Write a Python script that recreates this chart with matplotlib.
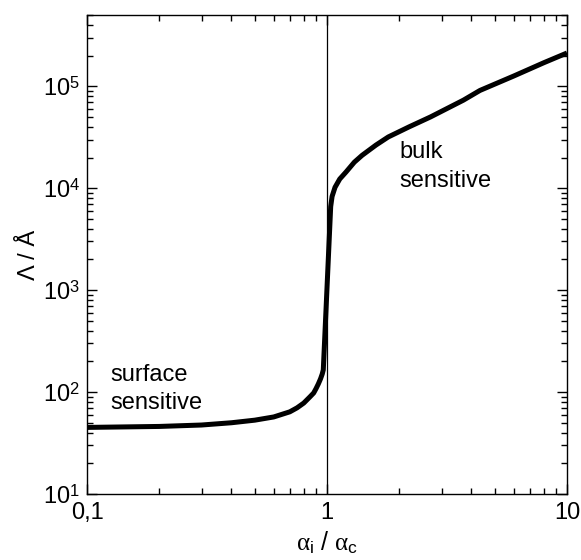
import matplotlib
matplotlib.use("Agg")
import matplotlib.pyplot as plt
from matplotlib.ticker import FixedLocator, FixedFormatter, LogLocator, NullFormatter

plt.rcParams['font.family'] = ['Liberation Sans', 'DejaVu Sans']
plt.rcParams['mathtext.fontset'] = 'custom'
plt.rcParams['mathtext.rm'] = 'Liberation Sans'
plt.rcParams['mathtext.it'] = 'Liberation Serif'
plt.rcParams['mathtext.sf'] = 'Liberation Sans'

# Data
ratio = [0.1, 0.2, 0.3, 0.4, 0.5, 0.6, 0.7, 0.75, 0.8, 0.85, 0.88, 0.9, 0.92,
         0.94, 0.955, 0.965,
         1.036, 1.05, 1.08, 1.13, 1.2, 1.3, 1.4, 1.6, 1.8, 2.2, 2.7, 3.7, 4.34,
         6.0, 8.0, 10.0]
depth = [45, 46, 47.5, 50, 53, 57, 64, 70, 78, 90, 98, 108, 120,
         135, 150, 165,
         6600, 8300, 10200, 12300, 14400, 18000, 21000, 26500, 31800, 40000,
         50000, 73000, 91000, 126000, 170000, 212000]

xtick_vals = [0.1, 1, 10]
xtick_labels = ['0,1', '1', '10']
ytick_vals = [1e1, 1e2, 1e3, 1e4, 1e5]
ytick_labels = [r'$10^{1}$', r'$10^{2}$', r'$10^{3}$', r'$10^{4}$', r'$10^{5}$']

fig = plt.figure(figsize=(5.81, 5.6), dpi=100)
ax = fig.add_axes([87/581, 66/560, 480/581, 479/560])

ax.plot(ratio, depth, color='black', lw=3.6, solid_capstyle='butt', solid_joinstyle='round')
ax.axvline(1.0, color='black', lw=0.9)

ax.set_xscale('log')
ax.set_yscale('log')
ax.set_xlim(0.1, 10)
ax.set_ylim(10, 5e5)

ax.xaxis.set_major_locator(FixedLocator(xtick_vals))
ax.xaxis.set_major_formatter(FixedFormatter(xtick_labels))
ax.yaxis.set_major_locator(FixedLocator(ytick_vals))
ax.yaxis.set_major_formatter(FixedFormatter(ytick_labels))
ax.xaxis.set_minor_locator(LogLocator(base=10, subs=range(2, 10)))
ax.yaxis.set_minor_locator(LogLocator(base=10, subs=range(2, 10)))
ax.xaxis.set_minor_formatter(NullFormatter())
ax.yaxis.set_minor_formatter(NullFormatter())

ax.tick_params(which='both', direction='in', top=True, right=True, labelsize=17, width=1.0)
ax.tick_params(which='major', length=7)
ax.tick_params(axis='x', which='major', pad=6)
ax.tick_params(axis='y', which='major', pad=5)
ax.tick_params(which='minor', length=4)
for s in ax.spines.values():
    s.set_linewidth(1.0)

ax.text(0.125, 190, 'surface\nsensitive', ha='left', va='top', fontsize=17, linespacing=1.4)
ax.text(2.0, 29000, 'bulk\nsensitive', ha='left', va='top', fontsize=17, linespacing=1.4)

ax.set_xlabel(r'$\alpha_\mathrm{i}$ / $\alpha_\mathrm{c}$', fontsize=18, labelpad=4)
ax.set_ylabel('Λ / Å', fontsize=17, labelpad=2)

fig.savefig('out.png', dpi=100)
